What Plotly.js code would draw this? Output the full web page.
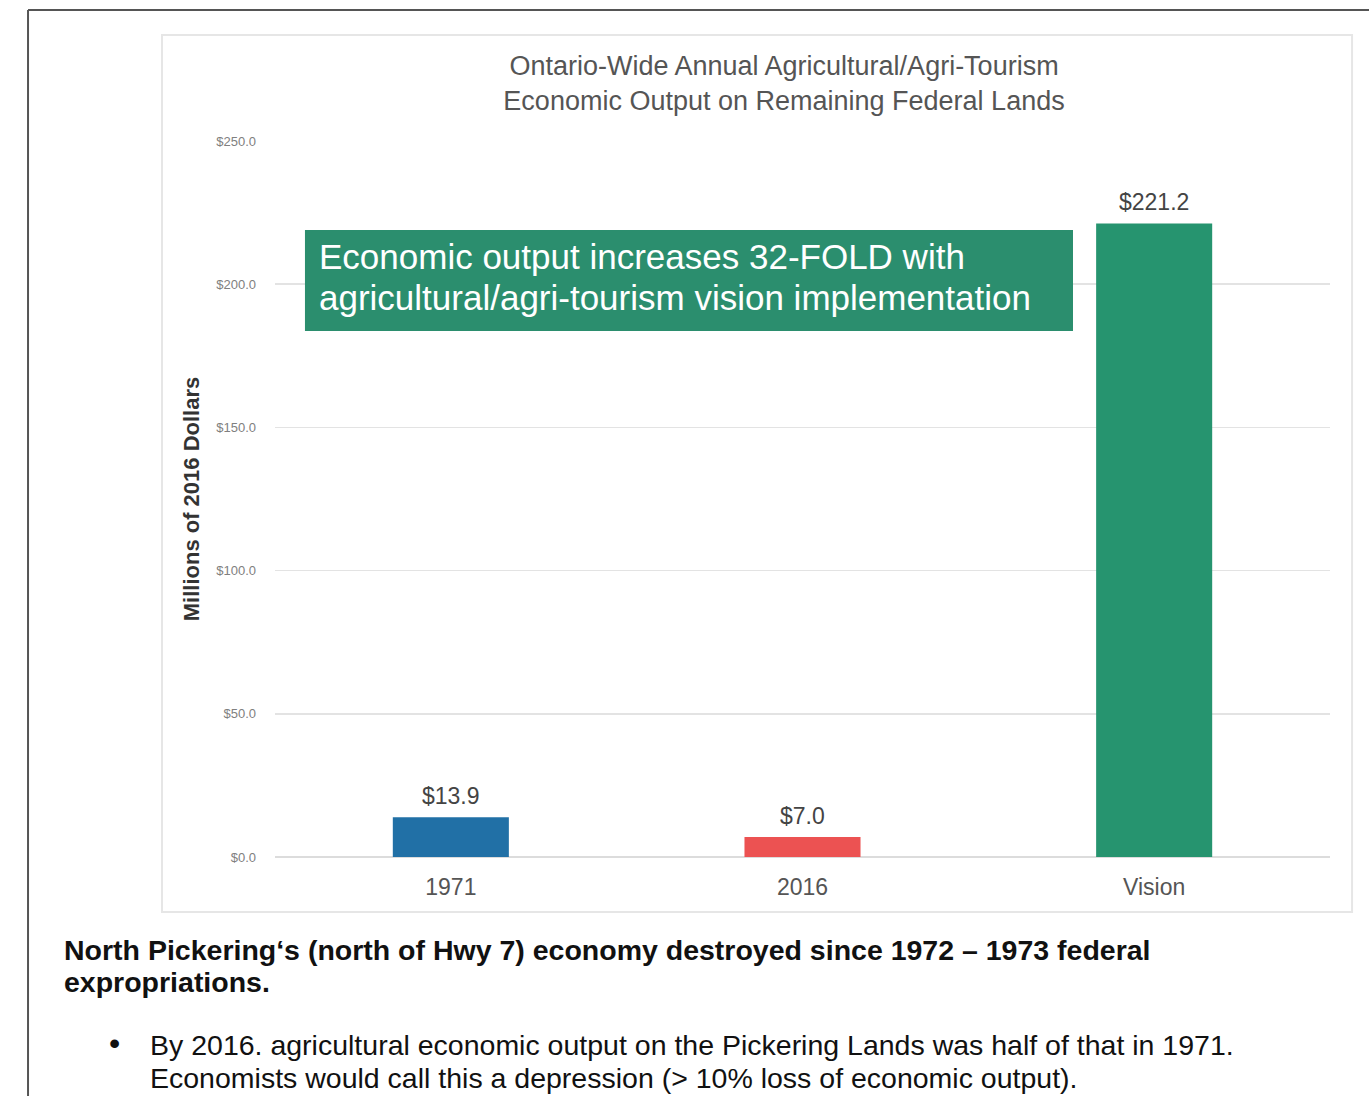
<!DOCTYPE html>
<html>
<head>
<meta charset="utf-8">
<script src="https://cdn.plot.ly/plotly-3.0.1.min.js"></script>
<style>
  html, body { margin: 0; padding: 0; background: #fff; }
  #chart { width: 1369px; height: 1096px; }
</style>
</head>
<body>
<div id="chart"></div>
<script>
// ---- data ----
const categories = ['1971', '2016', 'Vision'];
const values = [13.9, 7.0, 221.2];
const valueLabels = ['$13.9', '$7.0', '$221.2'];
const yTickValues = [0, 50, 100, 150, 200, 250];
const yTickLabels = ['$0.0', '$50.0', '$100.0', '$150.0', '$200.0', '$250.0'];
const chartTitle = 'Ontario-Wide Annual Agricultural/Agri-Tourism<br>Economic Output on Remaining Federal Lands';
const yTitle = 'Millions of 2016 Dollars';
const calloutLines = ['Economic output increases 32-FOLD with',
                      'agricultural/agri-tourism vision implementation'];
const headingLines = ['North Pickering\u2018s (north of Hwy 7) economy destroyed since 1972 \u2013 1973 federal',
                      'expropriations.'];
const bulletLines = ['By 2016. agricultural economic output on the Pickering Lands was half of that in 1971.',
                     'Economists would call this a depression (&gt; 10% loss of economic output).'];

// ---- styles ----
const barColors = ['#2170a6', '#ec5252', '#26946f'];
const FONT = '"Liberation Sans", Arial, sans-serif';

const xIndex = categories.map((c, i) => i);

const trace = {
  type: 'bar',
  x: xIndex,
  y: values,
  width: 0.33,
  marker: { color: barColors, line: { width: 0 } },
  hoverinfo: 'skip',
  cliponaxis: false
};

const valueAnnotations = xIndex.map((xi, i) => ({
  x: xi, y: values[i], xref: 'x', yref: 'y',
  text: valueLabels[i], showarrow: false,
  yanchor: 'bottom', yshift: 6,
  font: { family: FONT, size: 23, color: '#444' }
}));

const calloutY = [209.8, 195.5];
const calloutAnn = calloutLines.map((t, i) => ({
  xref: 'paper', yref: 'y', x: 0.0398, y: calloutY[i], xanchor: 'left', yanchor: 'middle',
  text: t, showarrow: false, align: 'left',
  font: { family: FONT, size: 35, color: '#ffffff' }
}));

const headingY = [-0.1299, -0.1746];
const headingAnn = headingLines.map((t, i) => ({
  xref: 'paper', yref: 'paper', x: -0.2019, y: headingY[i], xanchor: 'left', yanchor: 'middle',
  text: '<b>' + t + '</b>', showarrow: false, align: 'left',
  font: { family: FONT, size: 28.5, color: '#111' }
}));

const bulletY = [-0.2626, -0.3087];
const bulletAnn = bulletLines.map((t, i) => ({
  xref: 'paper', yref: 'paper', x: -0.1204, y: bulletY[i], xanchor: 'left', yanchor: 'middle',
  text: t, showarrow: false, align: 'left',
  font: { family: FONT, size: 28.5, color: '#111' }
}));

const layout = {
  width: 1369, height: 1096,
  margin: { l: 275, r: 39, t: 141, b: 239 },
  paper_bgcolor: '#ffffff',
  plot_bgcolor: '#ffffff',
  showlegend: false,
  font: { family: FONT },
  title: {
    text: chartTitle,
    x: 0.4825, xref: 'paper', xanchor: 'center',
    y: 0.932, yref: 'container', yanchor: 'middle',
    font: { family: FONT, size: 27, color: '#555' }
  },
  xaxis: {
    range: [-0.5, 2.5],
    tickvals: xIndex, ticktext: categories,
    showgrid: false, showline: false, zeroline: false,
    ticks: '', ticklabelstandoff: 14,
    tickfont: { family: FONT, size: 23, color: '#555' },
    fixedrange: true
  },
  yaxis: {
    range: [0, 250],
    tickvals: yTickValues, ticktext: yTickLabels,
    showgrid: true, gridcolor: '#e3e3e3', gridwidth: 1.5,
    zeroline: true, zerolinecolor: '#dcdcdc', zerolinewidth: 1.5,
    showline: false, ticks: '', ticklabelstandoff: 18,
    tickfont: { family: FONT, size: 13, color: '#808080' },
    title: { text: '<b>' + yTitle + '</b>', standoff: 10, font: { family: FONT, size: 22, color: '#333' } },
    fixedrange: true
  },
  shapes: [
    // outer page frame (top and left)
    { type: 'line', xref: 'paper', yref: 'paper', x0: -0.2341, x1: 1.04, y0: 1.1830, y1: 1.1830,
      line: { color: '#555', width: 2 } },
    { type: 'line', xref: 'paper', yref: 'paper', x0: -0.2341, x1: -0.2341, y0: 1.1830, y1: -0.34,
      line: { color: '#555', width: 2 } },
    // inner chart box
    { type: 'rect', xref: 'paper', yref: 'paper', x0: -0.1071, x1: 1.0209, y0: 1.1480, y1: -0.0768,
      line: { color: '#e6e6e6', width: 2 }, layer: 'below' },
    // callout box
    { type: 'rect', xref: 'paper', yref: 'y', x0: 0.0284, x1: 0.7564, y0: 183.7, y1: 218.9,
      fillcolor: '#2b8e6e', line: { width: 0 }, layer: 'above' }
  ],
  annotations: valueAnnotations.concat(calloutAnn, headingAnn, [
    { xref: 'paper', yref: 'paper', x: -0.1517, y: -0.2600, xanchor: 'center', yanchor: 'middle',
      text: '\u2022', showarrow: false,
      font: { family: FONT, size: 32, color: '#111' } }
  ], bulletAnn)
};

Plotly.newPlot('chart', [trace], layout, { displayModeBar: false, staticPlot: true });
</script>
</body>
</html>
